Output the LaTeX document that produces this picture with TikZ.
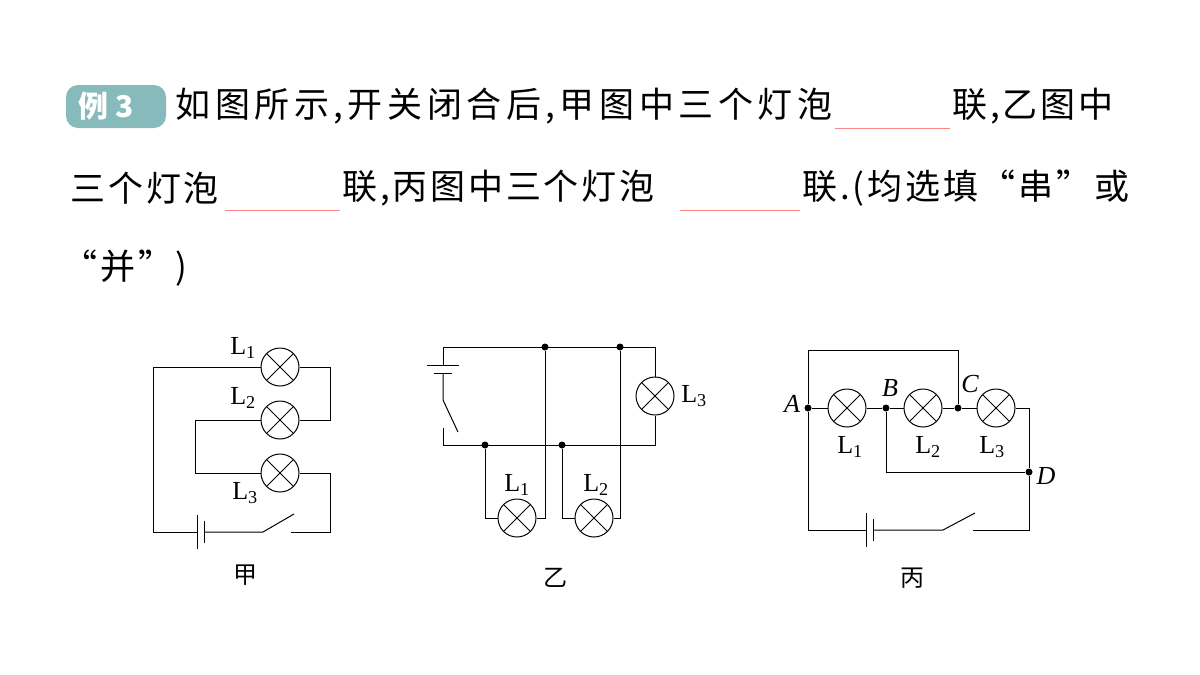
\documentclass[tikz,border=0pt]{standalone}
\usepackage{fontspec}
\setmainfont{Liberation Serif}
\newfontfamily\cjk[LetterSpace=8]{Noto Sans CJK SC}
\newfontfamily\cjkwide[LetterSpace=13]{Noto Sans CJK SC}
\newfontfamily\cjkcap{Noto Sans CJK SC}
\usetikzlibrary{positioning}

\tikzset{
    lamp/.style={circle, draw, minimum size=38pt, inner sep=0pt,
        path picture={\draw (path picture bounding box.south west) ++(5.5pt,5.5pt) -- ++(27pt,27pt)
            (path picture bounding box.north west) ++(5.5pt,-5.5pt) -- ++(27pt,-27pt);}},
    jdot/.style={circle, fill, inner sep=0pt, minimum size=7pt},
    lbl/.style={font=\fontsize{26}{28}\selectfont},
    ptlbl/.style={font=\itshape\fontsize{26}{28}\selectfont},
    figcap/.style={font=\cjkcap\fontsize{24}{26}\selectfont},
    qtext/.style={anchor=west, inner sep=0pt, font=\cjk\fontsize{35}{38}\selectfont},
    blank/.style={draw=pink!70!red, line width=1pt}
}
\newcommand{\battery}[2]{% x, y : long plate left, short plate right
  \draw[line width=1pt] (#1,#2-17) -- (#1,#2+17);
  \draw[line width=1pt] (#1+7,#2-11) -- (#1+7,#2+11);}

\begin{document}
\begin{tikzpicture}[x=1pt, y=-1pt, line width=1pt]
\useasboundingbox[fill=white] (0,0) rectangle (1200,675);

% question text
\fill[teal!35!cyan!35!gray!70, rounded corners=12pt] (66,85) rectangle (166,128);
\node[qtext, text=white, font=\cjkcap\bfseries\fontsize{30}{32}\selectfont] (ex) at (78,106) {例 3};
\node[qtext, font=\cjkwide\fontsize{35}{38}\selectfont] (q1a) at (175,106) {如图所示,开关闭合后,甲图中三个灯泡};
\node[qtext] (q1b) at (952,106) {联,乙图中};
\node[qtext] (q2a) at (70,188) {三个灯泡};
\node[qtext] (q2b) at (342,188) {联,丙图中三个灯泡};
\node[qtext] (q2c) at (802,188) {联.(均选填“串”或};
\node[qtext] (q3) at (62,268) {“并”)};
\draw[blank] (835,128) -- (950,128);
\draw[blank] (225,210) -- (340,210);
\draw[blank] (680,210) -- (800,210);

% circuit jia
\node[lamp] (j1) at (280,367) {};
\node[lamp] (j2) at (280,420) {};
\node[lamp] (j3) at (280,473) {};
\draw (j1.west) -- (153,367) -- (153,532) -- (197,532);
\battery{197}{532}
\draw (204,532) -- (263,532) -- (294,514);
\draw (291,532) -- (330,532) -- (330,473) -- (j3.east);
\draw (j1.east) -- (330,367) -- (330,420) -- (j2.east);
\draw (j2.west) -- (195,420) -- (195,473) -- (j3.west);
\node[lbl] (jl1) at (243,348) {L\textsubscript{1}};
\node[lbl] (jl2) at (243,398) {L\textsubscript{2}};
\node[lbl] (jl3) at (245,493) {L\textsubscript{3}};
\node[figcap] (jcap) at (245,575) {甲};

% circuit yi
\node[jdot] (ya) at (545,347) {};
\node[jdot] (yb) at (620,347) {};
\node[jdot] (yc) at (485,445) {};
\node[jdot] (yd) at (562,445) {};
\node[lamp] (y1) at (517,518) {};
\node[lamp] (y2) at (594,518) {};
\node[lamp] (y3) at (655,396) {};
\draw (443,365) -- (443,347) -- (655,347) -- (y3.north);
\draw[line width=1pt] (427,365) -- (459,365);
\draw[line width=1pt] (434,373) -- (452,373);
\draw (443,373) -- (443,400) -- (458,432);
\draw (443,428) -- (443,445) -- (655,445) -- (y3.south);
\draw (yc) -- (485,518) -- (y1.west);
\draw (y1.east) -- (545,518) -- (ya);
\draw (yd) -- (562,518) -- (y2.west);
\draw (y2.east) -- (620,518) -- (yb);
\node[lbl] (yl1) at (517,485) {L\textsubscript{1}};
\node[lbl] (yl2) at (596,485) {L\textsubscript{2}};
\node[lbl] (yl3) at (694,396) {L\textsubscript{3}};
\node[figcap] (ycap) at (555,578) {乙};

% circuit bing
\node[jdot] (A) at (808,408) {};
\node[jdot] (B) at (886,408) {};
\node[jdot] (C) at (958,408) {};
\node[jdot] (D) at (1029,472) {};
\node[lamp] (b1) at (847,408) {};
\node[lamp] (b2) at (923,408) {};
\node[lamp] (b3) at (996,408) {};
\draw (A) -- (b1.west) (b1.east) -- (B) -- (b2.west) (b2.east) -- (C) -- (b3.west);
\draw (b3.east) -- (1029,408) -- (D);
\draw (A) -- (808,350) -- (958,350) -- (C);
\draw (B) -- (886,472) -- (D);
\draw (A) -- (808,530) -- (866,530);
\battery{866}{530}
\draw (873,530) -- (943,530) -- (975,513);
\draw (973,530) -- (1029,530) -- (D);
\node[ptlbl] (lA) at (792,404) {A};
\node[ptlbl] (lB) at (890,388) {B};
\node[ptlbl] (lC) at (970,384) {C};
\node[ptlbl] (lD) at (1046,476) {D};
\node[lbl] (bl1) at (850,447) {L\textsubscript{1}};
\node[lbl] (bl2) at (928,447) {L\textsubscript{2}};
\node[lbl] (bl3) at (992,447) {L\textsubscript{3}};
\node[figcap] (bcap) at (912,578) {丙};
\end{tikzpicture}
\end{document}
